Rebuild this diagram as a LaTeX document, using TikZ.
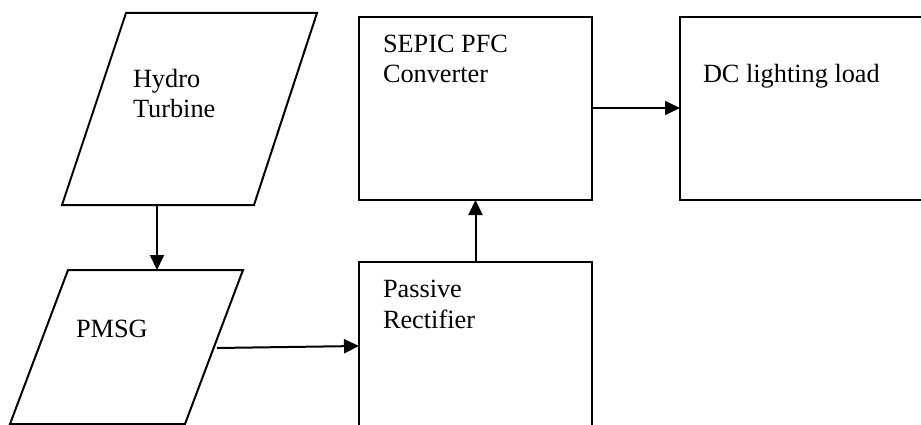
\documentclass[tikz,border=0pt]{standalone}
\usepackage{fontspec}
\setmainfont{Liberation Serif}
\usetikzlibrary{arrows.meta}
\begin{document}
\begin{tikzpicture}[x=1pt,y=-1pt,
  line width=2pt,
  blockbox/.style={draw=black, line width=2pt, minimum width=233pt, minimum height=183pt, inner sep=0pt, outer sep=0pt},
  lbl/.style={anchor=base west, inner sep=0pt, align=left, font=\fontsize{26.3}{30.5}\selectfont},
  conn/.style={-{Triangle[length=15pt,width=14pt]}, line width=2pt}]
\useasboundingbox (0,0) rectangle (921,425);
\clip (0,0) rectangle (921,425);
% parallelograms
\draw[line join=miter] (126,13) -- (317,13) -- (254,205) -- (62,205) -- cycle;
\draw[line join=miter] (68,270) -- (243,270) -- (185,424) -- (10,424) -- cycle;
\coordinate (hydroB) at (157,205);
\coordinate (pmsgT) at (157,270);
\coordinate (pmsgR) at (217,348);
% rectangles
\node[blockbox, anchor=north west] (sepic) at (359,17) {};
\node[blockbox, anchor=north west, minimum width=250pt] (dc) at (680,17) {};
\node[blockbox, anchor=north west, minimum height=200pt] (rect) at (359,262) {};
% labels (base = baseline of last line)
\node[lbl] (hydroT) at (132,118) {Hydro\\Turbine};
\node[lbl] (pmsgL) at (75,337) {PMSG};
\node[lbl] (sepicL) at (382,83) {SEPIC PFC\\Converter};
\node[lbl] (rectL) at (382,328) {Passive\\Rectifier};
\node[lbl] (dcL) at (702,83) {DC lighting load};
% connectors
\draw[conn] (hydroB) -- (pmsgT);
\draw[conn] (pmsgR) -- (rect.west |- 0,346);
\draw[conn] (rect.north) -- (sepic.south);
\draw[conn] (sepic.east |- 0,108) -- (dc.west |- 0,108);
\end{tikzpicture}
\end{document}
